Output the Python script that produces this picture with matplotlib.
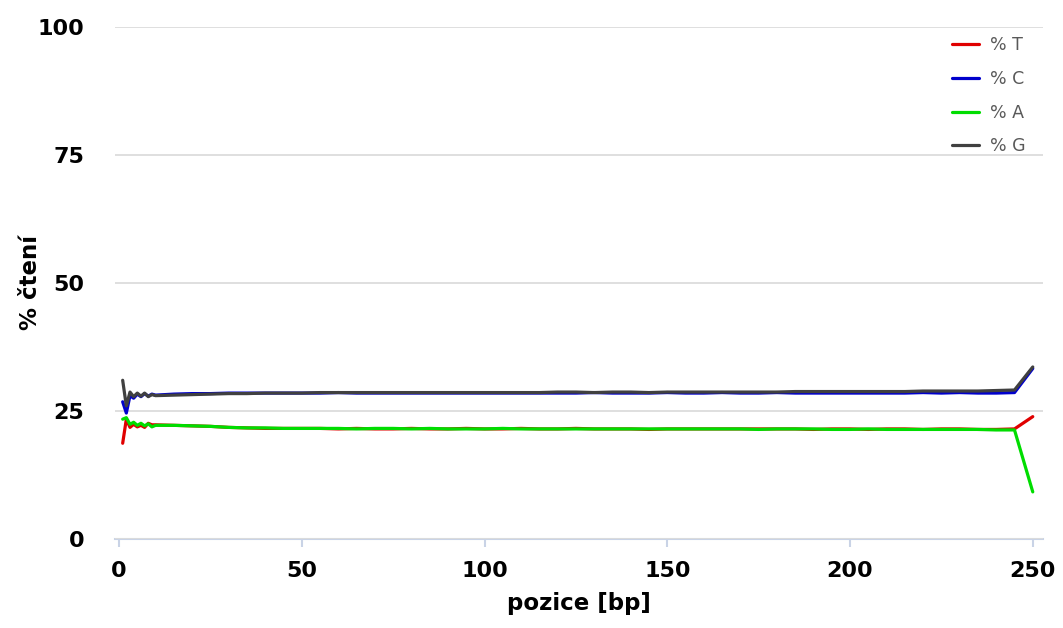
import matplotlib
matplotlib.use("Agg")
import matplotlib.pyplot as plt

positions = [1, 2, 3, 4, 5, 6, 7, 8, 9,
             10, 15, 20, 25, 30, 35, 40, 45, 50, 55, 60, 65, 70, 75, 80, 85, 90, 95,
             100, 105, 110, 115, 120, 125, 130, 135, 140, 145, 150, 155, 160, 165, 170,
             175, 180, 185, 190, 195, 200, 205, 210, 215, 220, 225, 230, 235, 240, 245,
             250]

pct_T = [18.7, 23.4, 21.8, 22.4, 21.9, 22.2, 21.8, 22.6, 22.3,
         22.3, 22.2, 22.1, 22.0, 21.8, 21.7, 21.6, 21.6, 21.6, 21.6, 21.5, 21.6, 21.5,
         21.5, 21.6, 21.5, 21.5, 21.6, 21.5, 21.5, 21.6, 21.5, 21.5, 21.6, 21.5, 21.5,
         21.5, 21.4, 21.5, 21.5, 21.5, 21.5, 21.5, 21.5, 21.5, 21.5, 21.4, 21.5, 21.5,
         21.4, 21.5, 21.5, 21.4, 21.5, 21.5, 21.4, 21.4, 21.5,
         23.9]

pct_C = [26.8, 24.6, 28.0, 27.5, 28.3, 27.8, 28.4, 27.9, 28.3,
         28.1, 28.3, 28.4, 28.4, 28.5, 28.5, 28.5, 28.5, 28.5, 28.5, 28.6, 28.5, 28.5,
         28.5, 28.5, 28.5, 28.5, 28.5, 28.5, 28.5, 28.5, 28.5, 28.5, 28.5, 28.6, 28.5,
         28.5, 28.5, 28.6, 28.5, 28.5, 28.6, 28.5, 28.5, 28.6, 28.5, 28.5, 28.5, 28.5,
         28.5, 28.5, 28.5, 28.6, 28.5, 28.6, 28.5, 28.5, 28.6,
         33.3]

pct_A = [23.4, 23.7, 22.4, 22.8, 22.2, 22.6, 22.1, 22.5, 21.9,
         22.2, 22.2, 22.1, 22.0, 21.8, 21.7, 21.7, 21.6, 21.6, 21.6, 21.6, 21.5, 21.6,
         21.6, 21.5, 21.6, 21.5, 21.5, 21.5, 21.6, 21.5, 21.5, 21.5, 21.5, 21.5, 21.5,
         21.5, 21.5, 21.5, 21.5, 21.5, 21.5, 21.5, 21.4, 21.5, 21.5, 21.5, 21.4, 21.4,
         21.5, 21.4, 21.4, 21.4, 21.4, 21.4, 21.4, 21.3, 21.3,
         9.2]

pct_G = [31.0, 26.0, 28.7, 27.8, 28.5, 27.9, 28.5, 27.8, 28.2,
         28.0, 28.1, 28.2, 28.3, 28.4, 28.4, 28.5, 28.5, 28.5, 28.6, 28.6, 28.6, 28.6,
         28.6, 28.6, 28.6, 28.6, 28.6, 28.6, 28.6, 28.6, 28.6, 28.7, 28.7, 28.6, 28.7,
         28.7, 28.6, 28.7, 28.7, 28.7, 28.7, 28.7, 28.7, 28.7, 28.8, 28.8, 28.8, 28.8,
         28.8, 28.8, 28.8, 28.9, 28.9, 28.9, 28.9, 29.0, 29.1,
         33.6]

series_names = ["% T", "% C", "% A", "% G"]
series_colors = ["#e00000", "#0000cc", "#00dd00", "#404040"]

x_ticks = [0, 50, 100, 150, 200, 250]
y_ticks = [0, 25, 50, 75, 100]

fig = plt.figure(figsize=(10.63, 6.28), dpi=100)
ax = fig.add_axes([115 / 1063, 1 - 539 / 628, (1043 - 115) / 1063, (539 - 27) / 628])

for vals, name, col in zip([pct_T, pct_C, pct_A, pct_G], series_names, series_colors):
    ax.plot(positions, vals, color=col, lw=2.3, label=name, solid_joinstyle="round",
            solid_capstyle="round")

ax.set_xlim(-1.1, 252.8)
ax.set_ylim(0, 100)
ax.set_xticks(x_ticks)
ax.set_yticks(y_ticks)
ax.yaxis.grid(True, color="#dcdcdc", lw=1.3)
ax.set_axisbelow(True)
for s in ["top", "right", "left"]:
    ax.spines[s].set_visible(False)
ax.spines["bottom"].set_color("#c9d3e6")
ax.spines["bottom"].set_linewidth(1.5)
ax.spines["bottom"].set_zorder(0.5)
ax.tick_params(axis="x", direction="out", length=6, width=1.5, color="#c9d3e6",
               pad=10)
ax.tick_params(axis="y", length=0, pad=22)
for lab in ax.get_xticklabels() + ax.get_yticklabels():
    lab.set_fontsize(16)
    lab.set_fontweight("bold")
    lab.set_color("black")

ax.set_xlabel("pozice [bp]", fontsize=16.5, fontweight="bold", labelpad=8)
ax.set_ylabel("% čtení", fontsize=16.5, fontweight="bold")
ax.yaxis.set_label_coords((42 - 115) / 928, 0.5)

leg = ax.legend(loc="upper right", bbox_to_anchor=(0.998, 1.012), frameon=False,
                fontsize=12.5, handlelength=1.6, handletextpad=0.6, labelspacing=0.9,
                labelcolor="#595959")
for h in leg.get_lines():
    h.set_linewidth(2.3)

fig.savefig("out.png", dpi=100)
